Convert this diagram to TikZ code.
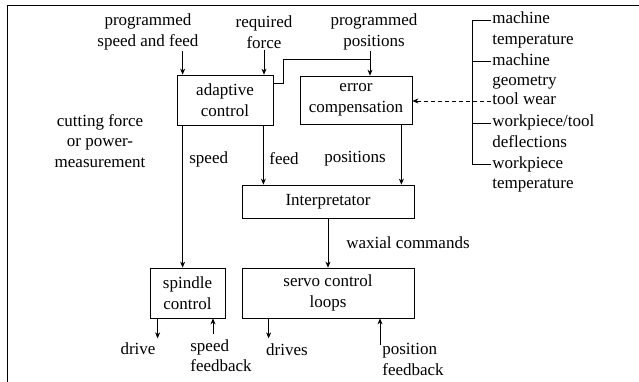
\documentclass[tikz,border=0pt]{standalone}
\usepackage{fontspec}
\setmainfont{Liberation Serif}
\usetikzlibrary{arrows.meta,calc}
\begin{document}
\begin{tikzpicture}[x=1pt,y=-1pt,
  font=\fontsize{17}{20.5}\selectfont,
  line width=0.75pt,
  boxx/.style={draw, align=center, inner sep=2pt},
  lbl/.style={align=center, inner sep=1pt},
  item/.style={anchor=west, inner sep=1pt, text height=11.5pt, text depth=3.5pt},
  arr/.style={-{Stealth[length=6pt,width=5pt]}},
  dsh/.style={dash pattern=on 4pt off 3pt}]
\useasboundingbox (0,0) rectangle (639,382);
% frame (top and left only)
\draw (639,5) -- (7,5) -- (7,382);
% boxes
\node[boxx, minimum width=96pt, minimum height=50pt] (adap) at (225,100) {adaptive\\control};
\node[boxx, minimum width=112pt, minimum height=48pt] (err) at (356,100) {error\\compensation};
\node[boxx, minimum width=172pt, minimum height=33pt] (interp) at (328,201.5) {Interpretator};
\node[boxx, minimum width=75pt, minimum height=50pt] (spin) at (187.5,293) {spindle\\control};
\node[boxx, minimum width=172pt, minimum height=50pt] (servo) at (328,293) {servo control\\loops};
% top labels
\node[lbl] (psf) at (148,32) {programmed\\speed and feed};
\node[lbl] (rf) at (264,32) {required\\force};
\node[lbl] (pp) at (374,32) {programmed\\positions};
% right list
\node[item] (mt1) at (491,20) {machine};
\node[item] (mt2) at (491,40.6) {temperature};
\node[item] (mg1) at (491,61.2) {machine};
\node[item] (mg2) at (491,81.8) {geometry};
\node[item] (tw) at (491,101) {tool wear};
\node[item] (wd1) at (491,123) {workpiece/tool};
\node[item] (wd2) at (491,143.6) {deflections};
\node[item] (wt1) at (491,164.2) {workpiece};
\node[item] (wt2) at (491,184.8) {temperature};
\coordinate (brx) at (472,0);
\draw (mt1.west) -| (brx |- wt1.west) -- (wt1.west);
\draw (mg1.west) -- (mg1.west -| brx);
\draw (wd1.west) -- (wd1.west -| brx);
\draw[dsh, arr] (tw.west) -- (tw.west -| err.east);
% left label
\node[lbl] (cf) at (100,141) {cutting force\\or power-\\measurement};
% middle labels
\node[lbl, anchor=west] (lsp) at (188,159) {speed};
\node[lbl, anchor=west] (lfd) at (268,159) {feed};
\node[lbl] (lpos) at (355,159) {positions};
\node[lbl] (lwax) at (408,243) {waxial commands};
% bottom labels
\node[lbl] (ldrv) at (138,349) {drive};
\node[lbl, anchor=north west, align=left] (lsfb) at (189,338) {speed\\feedback};
\node[lbl] (ldrvs) at (287,350) {drives};
\node[lbl, anchor=north west, align=left] (lpfb) at (381,342) {position\\feedback};
% top arrows
\draw[arr] ([xshift=6pt]adap.north west |- psf.south) -- ([xshift=6pt]adap.north west);
\draw[arr] (rf.south) -- (rf.south |- adap.north);
\coordinate (ppj) at (370,59);
\draw[arr] ([xshift=-4pt]pp.south) -- ([xshift=-4pt]pp.south |- err.north);
\draw ([yshift=17pt]adap.east) -- ++(10,0) |- (ppj);
% internal arrows
\draw[arr] ([xshift=6pt]adap.south west) -- ([xshift=6pt]adap.south west |- spin.north);
\draw[arr] ([xshift=-10pt]adap.south east) -- ([xshift=-10pt]adap.south east |- interp.north);
\draw[arr] ([xshift=-11pt]err.south east) -- ([xshift=-11pt]err.south east |- interp.north);
\draw[arr] (interp.south) -- (servo.north);
% bottom arrows
\coordinate (drvend) at ([xshift=8pt, yshift=-20pt]spin.south west);
\draw[arr] ([xshift=8pt]spin.south west) -- (drvend);
\coordinate (sfbstart) at ([xshift=24pt, yshift=4pt]lsfb.north west);
\draw[arr] (sfbstart) -- (sfbstart |- spin.south);
\coordinate (drvsend) at ([xshift=27pt, yshift=-20pt]servo.south west);
\draw[arr] ([xshift=27pt]servo.south west) -- (drvsend);
\coordinate (pfbstart) at (380,345);
\draw[arr] (pfbstart) -- (pfbstart |- servo.south);
\end{tikzpicture}
\end{document}
